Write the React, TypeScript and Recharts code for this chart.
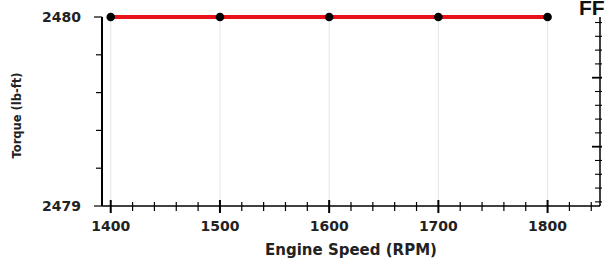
import { CartesianGrid, Line, LineChart, XAxis, YAxis } from 'recharts';

const speeds = [1400, 1500, 1600, 1700, 1800];
const torque = [2480, 2480, 2480, 2480, 2480];

const xMajor = [1400, 1500, 1600, 1700, 1800];
const xTicks = [1400, 1420, 1440, 1460, 1480, 1500, 1520, 1540, 1560, 1580, 1600, 1620, 1640, 1660, 1680, 1700, 1720, 1740, 1760, 1780, 1800, 1820, 1840];
const yTicks = [2479, 2479.2, 2479.4, 2479.6, 2479.8, 2480];
const yLabeled = [2479, 2480];
// right-hand axis belonging to the neighbouring (cropped) chart
const rightTicks = [0, 1, 2, 3, 4, 5, 6, 7, 8, 9, 10, 11, 12, 13];
const rightMajor = [4, 9];

const data = speeds.map((s, i) => ({ speed: s, torque: torque[i] }));

const font = '"DejaVu Sans", Arial, sans-serif';

const XTick = (props: any) => {
  const { x, y, payload } = props;
  const major = xMajor.includes(payload.value);
  return (
    <g>
      <line x1={x} x2={x} y1={major ? y - 6 : y - 4} y2={major ? y + 7 : y + 5} stroke="#000" strokeWidth={major ? 2 : 1.2} />
      {major && (
        <text x={x} y={y + 25} textAnchor="middle" fontSize={14} fontWeight="bold" fontFamily={font} fill="#222">
          {payload.value}
        </text>
      )}
    </g>
  );
};

const YTick = (props: any) => {
  const { x, y, payload } = props;
  const major = yLabeled.includes(payload.value);
  return (
    <g>
      <line x1={major ? x - 8 : x - 6} x2={x} y1={y} y2={y} stroke="#000" strokeWidth={1.2} />
      {major && (
        <text x={x - 21} y={y + 5} textAnchor="end" fontSize={14} fontWeight="bold" fontFamily={font} fill="#222">
          {payload.value}
        </text>
      )}
    </g>
  );
};

const RTick = (props: any) => {
  const { x, y, payload } = props;
  const major = rightMajor.includes(payload.value);
  return <line x1={major ? x - 8 : x - 5} x2={x + 2} y1={y} y2={y} stroke="#000" strokeWidth={major ? 1.8 : 1.1} />;
};

export default function App() {
  return (
    <div style={{ position: 'absolute', left: 0, top: 0, width: 608, height: 261, background: '#fff' }}>
      <LineChart width={608} height={261} data={data} margin={{ top: 17, right: 6, bottom: 0, left: 0 }}>
        <CartesianGrid
          verticalValues={xMajor}
          horizontalValues={[2480]}
          stroke="#e4e4e4"
          strokeWidth={1}
        />
        <XAxis
          dataKey="speed"
          type="number"
          domain={[1392, 1848]}
          ticks={xTicks}
          interval={0}
          height={55}
          tickSize={0}
          tickMargin={0}
          tick={<XTick />}
          axisLine={{ stroke: '#000', strokeWidth: 1.5 }}
          tickLine={false}
          label={{ value: 'Engine Speed (RPM)', position: 'insideBottom', offset: 6, fontSize: 15, fontWeight: 'bold', fontFamily: font, fill: '#222' }}
        />
        <YAxis
          yAxisId="left"
          type="number"
          domain={[2479, 2480]}
          ticks={yTicks}
          interval={0}
          width={102}
          tickSize={0}
          tickMargin={0}
          tick={<YTick />}
          axisLine={{ stroke: '#000', strokeWidth: 2 }}
          tickLine={false}
          label={{ value: 'Torque (lb-ft)', angle: -90, position: 'insideLeft', offset: 17, dy: 4, style: { textAnchor: 'middle' }, fontSize: 11.5, fontWeight: 'bold', fontFamily: font, fill: '#222' }}
        />
        <YAxis
          yAxisId="right"
          orientation="right"
          type="number"
          domain={[-0.3, 13.4]}
          allowDataOverflow
          ticks={rightTicks}
          interval={0}
          width={2}
          tickSize={0}
          tickMargin={0}
          tick={<RTick />}
          axisLine={{ stroke: '#000', strokeWidth: 1.5 }}
          tickLine={false}
        />
        <Line
          yAxisId="left"
          dataKey="torque"
          type="linear"
          stroke="#e8121a"
          strokeWidth={4}
          dot={{ r: 4.3, fill: '#000', stroke: '#000', strokeWidth: 0 }}
          isAnimationActive={false}
        />
        <text x={579} y={15} fontSize={21} fontWeight="bold" fontFamily="Arial, 'Liberation Sans', sans-serif" fill="#111">
          FF
        </text>
      </LineChart>
    </div>
  );
}
